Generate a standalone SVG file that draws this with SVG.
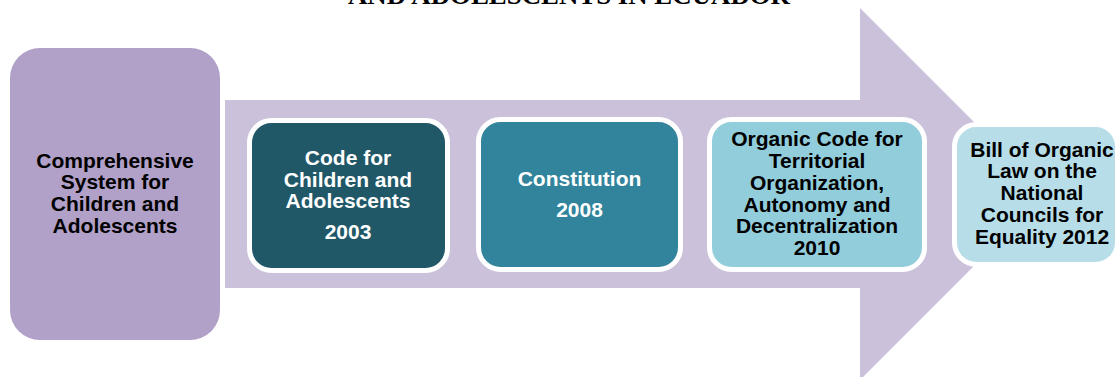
<svg xmlns="http://www.w3.org/2000/svg" width="1120" height="377" viewBox="0 0 1120 377">
<style>
.t{font-family:"Liberation Sans",Arial,sans-serif;font-weight:bold;font-size:21px;text-anchor:middle}
.w{fill:#ffffff}
.k{fill:#000000}
.box{stroke:#ffffff;stroke-width:5}
</style>
<rect width="1120" height="377" fill="#ffffff"/>
<text x="348" y="4" textLength="442" lengthAdjust="spacingAndGlyphs" style="font-family:'Liberation Serif','Times New Roman',serif;font-weight:bold;font-size:26px">AND ADOLESCENTS IN ECUADOR</text>
<g id="connectors">
<path d="M225,100 H860 V8 L1046,194 L860,380 V288 H225 Z" fill="#cbc1db"/>
</g>
<g id="node-system">
<rect x="10" y="48" width="210" height="292" rx="30" fill="#b1a0c7"/>
<text class="t k"><tspan x="115" y="168">Comprehensive</tspan><tspan x="115" y="189">System for</tspan><tspan x="115" y="211">Children and</tspan><tspan x="115" y="233">Adolescents</tspan></text>
</g>
<g id="node-code">
<rect class="box" x="249.5" y="120.5" width="198" height="150" rx="22" fill="#215868"/>
<text class="t w"><tspan x="348" y="165">Code for</tspan><tspan x="348" y="187">Children and</tspan><tspan x="348" y="208">Adolescents</tspan><tspan x="348" y="239">2003</tspan></text>
</g>
<g id="node-constitution">
<rect class="box" x="478.5" y="119.5" width="202" height="150" rx="22" fill="#31849b"/>
<text class="t w"><tspan x="579.5" y="186">Constitution</tspan><tspan x="579.5" y="217">2008</tspan></text>
</g>
<g id="node-organic">
<rect class="box" x="709.5" y="119.5" width="215" height="150" rx="22" fill="#92cddc"/>
<text class="t k"><tspan x="817" y="146">Organic Code for</tspan><tspan x="817" y="168">Territorial</tspan><tspan x="817" y="190">Organization,</tspan><tspan x="817" y="212">Autonomy and</tspan><tspan x="817" y="233">Decentralization</tspan><tspan x="817" y="255">2010</tspan></text>
</g>
<g id="node-bill">
<rect class="box" x="954.5" y="124.5" width="163" height="140" rx="22" fill="#b7dee8"/>
<text class="t k"><tspan x="1042" y="157">Bill of Organic</tspan><tspan x="1042" y="178">Law on the</tspan><tspan x="1042" y="200">National</tspan><tspan x="1042" y="222">Councils for</tspan><tspan x="1042" y="244">Equality 2012</tspan></text>
</g>
</svg>
